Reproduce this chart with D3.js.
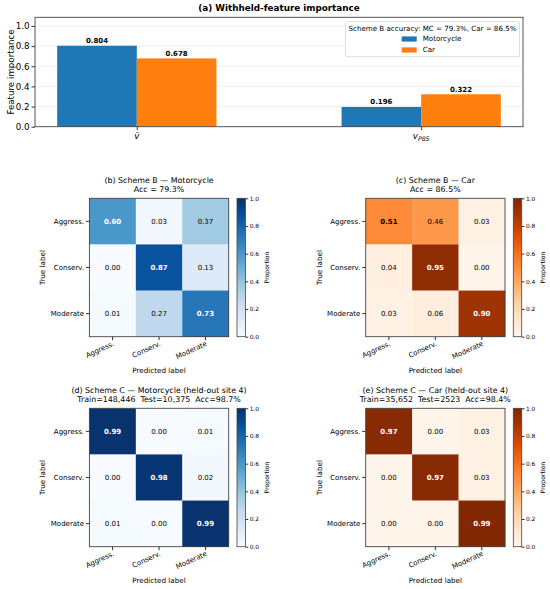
<!DOCTYPE html>
<html><head><meta charset="utf-8">
<script src="https://cdn.jsdelivr.net/npm/d3@7"></script>
<style>body{margin:0;background:#fff}svg{display:block}text{font-family:"DejaVu Sans",sans-serif;fill:#000;white-space:pre}</style>
</head><body>
<svg id="c" width="550" height="589"></svg>
<script>
// ---------- data ----------
const featureKeys = ["vbar", "vp85"];
const motoImportance = [0.804, 0.196];
const carImportance = [0.678, 0.322];
const seriesNames = ["Motorcycle", "Car"];
const legendTitle = "Scheme B accuracy: MC = 79.3%, Car = 86.5%";
const yTicksTop = [0, 0.2, 0.4, 0.6, 0.8, 1.0];
const classes = ["Aggress.", "Conserv.", "Moderate"];
const cmMotoB = [[0.60, 0.03, 0.37], [0.00, 0.87, 0.13], [0.01, 0.27, 0.73]];
const cmCarB  = [[0.51, 0.46, 0.03], [0.04, 0.95, 0.00], [0.03, 0.06, 0.90]];
const cmMotoC = [[0.99, 0.00, 0.01], [0.00, 0.98, 0.02], [0.01, 0.00, 0.99]];
const cmCarC  = [[0.97, 0.00, 0.03], [0.00, 0.97, 0.03], [0.00, 0.00, 0.99]];
const titlesB = [["(b) Scheme B — Motorcycle", "Acc = 79.3%"], ["(c) Scheme B — Car", "Acc = 86.5%"]];
const titlesC = [["(d) Scheme C — Motorcycle (held-out site 4)", "Train=148,446  Test=10,375  Acc=98.7%"],
                 ["(e) Scheme C — Car (held-out site 4)", "Train=35,652  Test=2523  Acc=98.4%"]];
const cbarTicks = [0, 0.2, 0.4, 0.6, 0.8, 1.0];
const bluesStops = ["#f7fbff","#deebf7","#c6dbef","#9ecae1","#6baed6","#4292c6","#2171b5","#08519c","#08306b"];
const orangesStops = ["#fff5eb","#fee6ce","#fdd0a2","#fdae6b","#fd8d3c","#f16913","#d94801","#a63603","#7f2704"];

const svg = d3.select("#c");
const defs = svg.append("defs");

// ---------- (a) bar chart ----------
const A = {l: 35, r: 523, t: 17.3, b: 126.7};
const x = d3.scaleLinear().domain([-0.358, 1.358]).range([A.l, A.r]);
const y = d3.scaleLinear().domain([0, 1.086]).range([A.b, A.t]);
const barW = 0.28;
const colors = ["#1f77b4", "#ff7f0e"];
const ga = svg.append("g");

ga.append("text").attr("x", (A.l + A.r) / 2).attr("y", 10.8).attr("text-anchor", "middle")
  .style("font-size", "8.8px").style("font-weight", "bold").text("(a) Withheld-feature importance");

// grid
ga.selectAll("line.grid").data(yTicksTop.filter(d => d > 0)).join("line")
  .attr("x1", A.l).attr("x2", A.r).attr("y1", d => y(d)).attr("y2", d => y(d))
  .attr("stroke", "#d9d9d9").attr("stroke-width", 0.6).attr("stroke-dasharray", "2.5,1.5");

const series = [motoImportance, carImportance];
series.forEach((vals, s) => {
  ga.selectAll(null).data(vals).join("rect")
    .attr("x", (d, i) => x(i + (s === 0 ? -barW : 0)))
    .attr("width", (d, i) => x(i + barW) - x(i))
    .attr("y", d => y(d)).attr("height", d => y(0) - y(d))
    .attr("fill", colors[s]);
  ga.selectAll(null).data(vals).join("text")
    .attr("x", (d, i) => x(i + (s === 0 ? -barW / 2 : barW / 2)))
    .attr("y", d => y(d) - 2.6).attr("text-anchor", "middle")
    .style("font-size", "7px").style("font-weight", "bold").text(d => d.toFixed(3));
});

// axes
const yAx = ga.append("g").attr("transform", `translate(${A.l},0)`)
  .call(d3.axisLeft(y).tickValues(yTicksTop).tickFormat(d3.format(".1f")).tickSize(3.5).tickPadding(2));
yAx.select(".domain").remove();
yAx.selectAll("text").style("font-size", "8.7px").attr("fill", "#000");
yAx.selectAll("line").attr("stroke", "#333");
const xAx = ga.append("g").attr("transform", `translate(0,${A.b})`)
  .call(d3.axisBottom(x).tickValues([0, 1]).tickFormat("").tickSize(3.5));
xAx.select(".domain").remove();
xAx.selectAll("line").attr("stroke", "#333");
ga.append("rect").attr("x", A.l).attr("y", A.t).attr("width", A.r - A.l).attr("height", A.b - A.t)
  .attr("fill", "none").attr("stroke", "#444").attr("stroke-width", 0.9);

// x tick labels (math)
const xl0 = ga.append("text").attr("x", x(0)).attr("y", A.b + 12.5).attr("text-anchor", "middle")
  .style("font-size", "8.7px").style("font-style", "italic");
xl0.text(featureKeys[0] === "vbar" ? "v\u0304" : "v");
const xl1 = ga.append("text").attr("x", x(1)).attr("y", A.b + 12.5).attr("text-anchor", "middle")
  .style("font-size", "8.7px").style("font-style", "italic");
xl1.append("tspan").text("v");
xl1.append("tspan").attr("dy", 2).style("font-size", "6.2px").text("P85");

ga.append("text").attr("transform", `translate(10.5,${(A.t + A.b) / 2}) rotate(-90)`)
  .attr("text-anchor", "middle").attr("dy", "0.35em").style("font-size", "8.7px").text("Feature importance");

// legend
const L = {x: 345.5, y: 21.7, w: 174, h: 35};
ga.append("rect").attr("x", L.x).attr("y", L.y).attr("width", L.w).attr("height", L.h).attr("rx", 1.5)
  .attr("fill", "#fff").attr("fill-opacity", 0.85).attr("stroke", "#d0d0d0").attr("stroke-width", 0.7);
ga.append("text").attr("x", L.x + L.w / 2).attr("y", 28.4).attr("dy", "0.35em").attr("text-anchor", "middle")
  .style("font-size", "7.1px").text(legendTitle);
seriesNames.forEach((n, i) => {
  const yy = 39 + i * 11;
  ga.append("rect").attr("x", 401.7).attr("y", yy - 2.6).attr("width", 15).attr("height", 5.2).attr("fill", colors[i]);
  ga.append("text").attr("x", 422.7).attr("y", yy).attr("dy", "0.35em").style("font-size", "7.1px").text(n);
});

// ---------- heatmaps ----------
function colormap(stops) {
  return d3.scaleLinear().domain(stops.map((_, i) => i / (stops.length - 1))).range(stops)
    .interpolate(d3.interpolateRgb).clamp(true);
}
const blues = colormap(bluesStops), oranges = colormap(orangesStops);

function heatmap(cfg) {
  const {x0, y0, mat, cmap, stops, title, id} = cfg;
  const W = 139.3, H = 138.4;
  const g = svg.append("g");
  const xs = d3.scaleBand().domain(classes).range([x0, x0 + W]);
  const ys = d3.scaleBand().domain(classes).range([y0, y0 + H]);
  const cells = [];
  mat.forEach((row, r) => row.forEach((v, c) => cells.push({r, c, v})));
  g.selectAll("rect.cell").data(cells).join("rect")
    .attr("x", d => xs(classes[d.c])).attr("y", d => ys(classes[d.r]))
    .attr("width", xs.bandwidth() + 0.3).attr("height", ys.bandwidth() + 0.3)
    .attr("fill", d => cmap(d.v));
  g.selectAll("text.cell").data(cells).join("text")
    .attr("x", d => xs(classes[d.c]) + xs.bandwidth() / 2)
    .attr("y", d => ys(classes[d.r]) + ys.bandwidth() / 2).attr("dy", "0.35em")
    .attr("text-anchor", "middle").style("font-size", "7px")
    .style("font-weight", d => d.r === d.c ? "bold" : "normal")
    .style("fill", d => d.v > 0.55 ? "#fff" : "#000")
    .text(d => d.v.toFixed(2));
  g.append("rect").attr("x", x0).attr("y", y0).attr("width", W).attr("height", H)
    .attr("fill", "none").attr("stroke", "#444").attr("stroke-width", 0.9);

  // axes
  const ax = g.append("g").attr("transform", `translate(${x0},0)`)
    .call(d3.axisLeft(ys).tickSize(3.5).tickPadding(1.8));
  ax.select(".domain").remove();
  ax.selectAll("text").style("font-size", "7px").attr("fill", "#000");
  ax.selectAll("line").attr("stroke", "#333");
  const bx = g.append("g").attr("transform", `translate(0,${y0 + H})`)
    .call(d3.axisBottom(xs).tickSize(3.5));
  bx.select(".domain").remove();
  bx.selectAll("line").attr("stroke", "#333");
  bx.selectAll("text").style("font-size", "7px").attr("fill", "#000")
    .attr("text-anchor", "end").attr("dy", null).attr("y", null)
    .attr("transform", "translate(2,8.5) rotate(-25)");

  g.append("text").attr("transform", `translate(${x0 - 46.6},${y0 + H / 2}) rotate(-90)`)
    .attr("text-anchor", "middle").attr("dy", "0.35em").style("font-size", "7.2px").text("True label");
  g.append("text").attr("x", x0 + W / 2).attr("y", y0 + H + 33.6).attr("dy", "0.35em")
    .attr("text-anchor", "middle").style("font-size", "7.2px").text("Predicted label");

  g.append("text").attr("x", x0 + W / 2).attr("y", y0 - 17.6).attr("dy", "0.35em")
    .attr("text-anchor", "middle").style("font-size", "7.9px").text(title[0]);
  g.append("text").attr("x", x0 + W / 2).attr("y", y0 - 9.2).attr("dy", "0.35em")
    .attr("text-anchor", "middle").style("font-size", "7.9px").text(title[1]);

  // colorbar
  const grad = defs.append("linearGradient").attr("id", id).attr("x1", 0).attr("y1", 1).attr("x2", 0).attr("y2", 0);
  stops.forEach((s, i) => grad.append("stop").attr("offset", i / (stops.length - 1)).attr("stop-color", s));
  const cx = x0 + W + 8.3, cw = 8.4;
  const cy = d3.scaleLinear().domain([0, 1]).range([y0 + H, y0]);
  g.append("rect").attr("x", cx).attr("y", y0).attr("width", cw).attr("height", H).attr("fill", `url(#${id})`)
    .attr("stroke", "#444").attr("stroke-width", 0.8);
  const cax = g.append("g").attr("transform", `translate(${cx + cw},0)`)
    .call(d3.axisRight(cy).tickValues(cbarTicks).tickFormat(d3.format(".1f")).tickSize(2.8).tickPadding(1.5));
  cax.select(".domain").remove();
  cax.selectAll("text").style("font-size", "5.9px").attr("fill", "#000");
  cax.selectAll("line").attr("stroke", "#333");
  g.append("text").attr("transform", `translate(${cx + cw + 21.2},${y0 + H / 2}) rotate(-90)`)
    .attr("text-anchor", "middle").attr("dy", "0.35em").style("font-size", "6.2px").text("Proportion");
}

heatmap({x0: 89.4, y0: 198.3, mat: cmMotoB, cmap: blues, stops: bluesStops, title: titlesB[0], id: "g1"});
heatmap({x0: 365.7, y0: 198.3, mat: cmCarB, cmap: oranges, stops: orangesStops, title: titlesB[1], id: "g2"});
heatmap({x0: 89.4, y0: 408.3, mat: cmMotoC, cmap: blues, stops: bluesStops, title: titlesC[0], id: "g3"});
heatmap({x0: 365.7, y0: 408.3, mat: cmCarC, cmap: oranges, stops: orangesStops, title: titlesC[1], id: "g4"});
</script>
</body></html>
